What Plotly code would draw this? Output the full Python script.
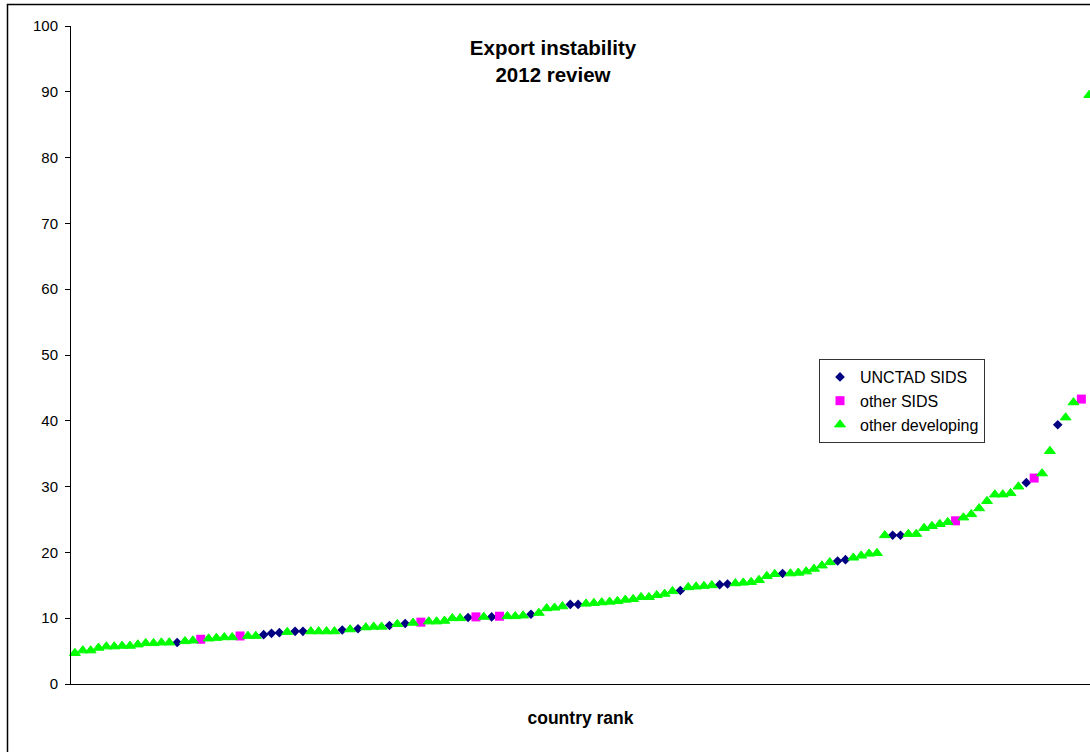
import plotly.graph_objects as go

# Export instability index by country rank (ranked ascending)
rank = list(range(1, 131))

export_instability = [
    4.7, 5.1, 5.1, 5.5, 5.7, 5.7, 5.8, 5.8, 6.0, 6.2,
    6.2, 6.3, 6.3, 6.3, 6.5, 6.6, 6.8, 6.9, 7.0, 7.1,
    7.1, 7.3, 7.3, 7.3, 7.5, 7.7, 7.8, 7.9, 8.0, 8.0,
    8.0, 8.0, 8.0, 8.0, 8.2, 8.3, 8.4, 8.6, 8.7, 8.7,
    8.9, 9.1, 9.2, 9.3, 9.4, 9.5, 9.5, 9.6, 10.0, 10.0,
    10.1, 10.2, 10.2, 10.2, 10.3, 10.3, 10.3, 10.4, 10.6, 10.8,
    11.5, 11.6, 11.8, 12.1, 12.1, 12.2, 12.3, 12.4, 12.5, 12.6,
    12.8, 12.9, 13.2, 13.2, 13.5, 13.7, 14.1, 14.2, 14.7, 14.8,
    14.9, 15.0, 15.1, 15.2, 15.3, 15.4, 15.5, 15.8, 16.4, 16.7,
    16.8, 16.8, 16.9, 17.1, 17.5, 18.0, 18.5, 18.7, 18.9, 19.2,
    19.5, 19.8, 19.9, 22.6, 22.6, 22.6, 22.8, 22.8, 23.7, 24.0,
    24.3, 24.6, 24.8, 25.3, 25.8, 26.7, 27.8, 28.8, 28.8, 29.0,
    30.0, 30.6, 31.3, 32.0, 35.4, 39.4, 40.5, 42.8, 43.3, 89.5,
]

# U = UNCTAD SIDS, S = other SIDS, D = other developing
group = list(
    "DDDDDDDDDD"
    "DDDUDDSDDD"
    "DSDDUUUDUU"
    "DDDDUDUDDD"
    "UDUDSDDDDD"
    "USDUSDDDUD"
    "DDDUUDDDDD"
    "DDDDDDDUDD"
    "DDUUDDDDDD"
    "UDDDDDDUUD"
    "DDDDUUDDDD"
    "DDSDDDDDDD"
    "DUSDDUDDSD"
)

series_names = {"U": "UNCTAD SIDS", "S": "other SIDS", "D": "other developing"}
series_colors = {"U": "#000080", "S": "#FF00FF", "D": "#00FF00"}
series_symbols = {"U": "diamond", "S": "square", "D": "triangle-up"}
series_sizes = {"U": 7.4, "S": 9, "D": 9.5}

FONT = "Arial, 'Liberation Sans', Helvetica, sans-serif"
W, H = 1090, 752
ML, MR, MT, MB = 71, 0, 26, 68
PW, PH = W - ML - MR, H - MT - MB

fig = go.Figure()
for code in ["U", "S", "D"]:
    xs = [r for r, g in zip(rank, group) if g == code]
    ys = [v for v, g in zip(export_instability, group) if g == code]
    fig.add_trace(go.Scatter(
        x=xs, y=ys, mode="markers", name=series_names[code],
        legendgroup=code,
        cliponaxis=False,
        marker=dict(symbol=series_symbols[code], size=series_sizes[code],
                    color=series_colors[code],
                    line=dict(width=1 if code == "D" else 0,
                              color=series_colors[code])),
    ))

# outer chart-area frame
def px_x(p):
    return (p - ML) / PW

def px_y(p):
    return (H - MB - p) / PH

fig.add_shape(type="rect", xref="paper", yref="paper",
              x0=px_x(7.5), x1=px_x(W + 20), y0=px_y(H + 20), y1=px_y(4.5),
              line=dict(color="black", width=1.5), fillcolor="rgba(0,0,0,0)",
              layer="below")

fig.update_layout(
    width=W, height=H,
    margin=dict(l=ML, r=MR, t=MT, b=MB, pad=0),
    paper_bgcolor="white", plot_bgcolor="white",
    font=dict(family=FONT, color="black", size=15),
    title=dict(text="<b>Export instability<br>2012 review</b>",
               font=dict(family=FONT, size=20.5, color="black"),
               x=553 / W, xanchor="center", xref="container",
               y=1 - 55 / H, yanchor="top", yref="container"),
    showlegend=True,
    legend=dict(x=px_x(819), y=px_y(359), xanchor="left", yanchor="top",
                bgcolor="white", bordercolor="#333333", borderwidth=1,
                font=dict(family=FONT, size=16, color="black"),
                tracegroupgap=0, itemwidth=30),
    xaxis=dict(range=[0.5, 130.1], showticklabels=False, ticks="",
               showgrid=False, zeroline=False, showline=True,
               linecolor="black", linewidth=1,
               title=dict(text="<b>country rank</b>",
                          font=dict(family=FONT, size=17.5, color="black"),
                          standoff=27)),
    yaxis=dict(range=[0, 100], dtick=10, tick0=0, ticks="outside", ticklen=5,
               tickcolor="black", tickwidth=1,
               showgrid=False, zeroline=False, showline=True,
               linecolor="black", linewidth=1,
               tickfont=dict(family=FONT, size=15, color="black"),
               ticklabelstandoff=4),
)

fig.write_html("out.html")
